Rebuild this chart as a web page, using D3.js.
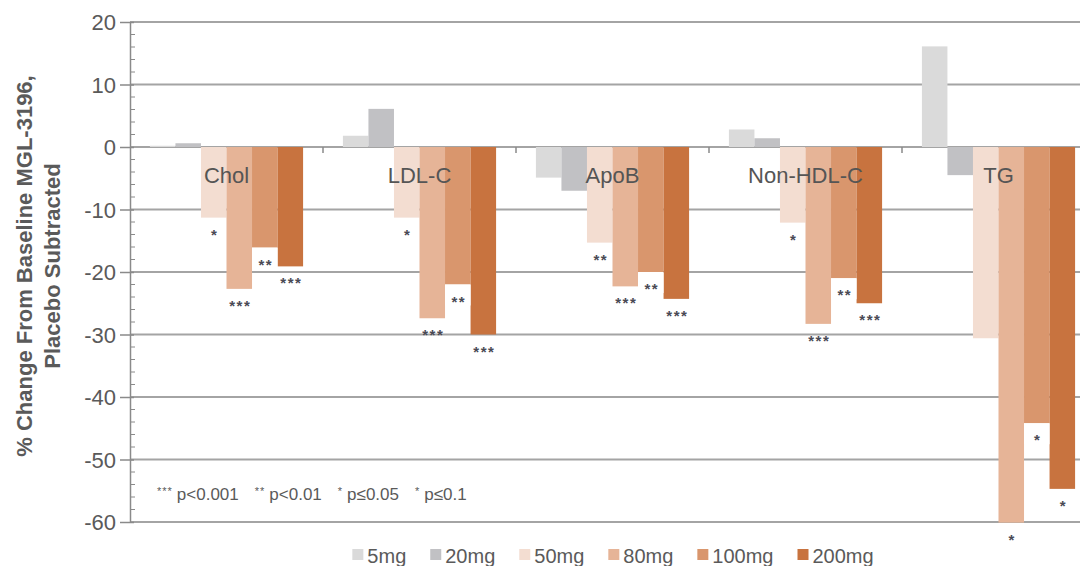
<!DOCTYPE html>
<html>
<head>
<meta charset="utf-8">
<script src="https://cdn.jsdelivr.net/npm/d3@7"></script>
<style>
  body { margin: 0; background: #fff; }
  svg { display: block; font-family: "Liberation Sans", Arial, sans-serif; }
</style>
</head>
<body>
<div id="viz"></div>
<script>

// data
var categories = ["Chol", "LDL-C", "ApoB", "Non-HDL-C", "TG"];
var doses = ["5mg", "20mg", "50mg", "80mg", "100mg", "200mg"];

var val5mg   = [0.2, 1.8, -4.9, 2.8, 16.1];
var val20mg  = [0.6, 6.1, -7.0, 1.4, -4.5];
var val50mg  = [-11.3, -11.3, -15.3, -12.1, -30.6];
var val80mg  = [-22.7, -27.4, -22.3, -28.3, -60.1];
var val100mg = [-16.1, -22.0, -20.0, -21.0, -44.2];
var val200mg = [-19.1, -30.0, -24.3, -25.0, -54.7];

var sig5mg   = ["", "", "", "", ""];
var sig20mg  = ["", "", "", "", ""];
var sig50mg  = ["*", "*", "**", "*", ""];
var sig80mg  = ["***", "***", "***", "***", "*"];
var sig100mg = ["**", "**", "**", "**", "*"];
var sig200mg = ["***", "***", "***", "***", "*"];

var yTicks = [20, 10, 0, -10, -20, -30, -40, -50, -60];
var sigLegend = [["***", "p<0.001"], ["**", "p<0.01"], ["*", "p\u22640.05"], ["*", "p\u22640.1"]];

var doseColors = ["#dadada", "#c1c1c4", "#f3ddd1", "#e6b497", "#d9966d", "#c8733f"];

var series = [val5mg, val20mg, val50mg, val80mg, val100mg, val200mg];
var sigs = [sig5mg, sig20mg, sig50mg, sig80mg, sig100mg, sig200mg];

var rows = [];
categories.forEach(function(c, ci){
  doses.forEach(function(d, di){
    rows.push({cat: c, dose: d, value: series[di][ci], sig: sigs[di][ci]});
  });
});

var W = 1080, H = 566;
var margin = {top: 22, left: 130};
var plotRight = 1095, plotBottom = 522;

var svg = d3.select("#viz").append("svg")
    .attr("width", W)
    .attr("height", H);

var y = d3.scaleLinear()
    .domain([-60, 20])
    .range([plotBottom, margin.top]);

var x = d3.scaleBand()
    .domain(categories)
    .range([margin.left, plotRight])
    .paddingInner(0)
    .paddingOuter(0);

var xDose = d3.scaleBand()
    .domain(doses)
    .range([0, x.bandwidth()])
    .paddingInner(0)
    .paddingOuter(0.78);

var color = d3.scaleOrdinal()
    .domain(doses)
    .range(doseColors);

// gridlines
svg.append("g")
    .selectAll("line")
    .data(yTicks)
    .enter().append("line")
    .attr("x1", margin.left)
    .attr("x2", plotRight)
    .attr("y1", function(d){ return y(d); })
    .attr("y2", function(d){ return y(d); })
    .style("stroke", "#a4a4a4")
    .style("stroke-width", 2);

// bars
var bars = svg.append("g")
    .selectAll("rect")
    .data(rows)
    .enter().append("rect")
    .attr("x", function(d){ return x(d.cat) + xDose(d.dose); })
    .attr("width", xDose.bandwidth())
    .attr("y", function(d){ return y(Math.max(0, d.value)); })
    .attr("height", function(d){ return Math.abs(y(d.value) - y(0)); })
    .style("fill", function(d){ return color(d.dose); });

// white box behind the 100mg marks
svg.append("g")
    .selectAll("rect")
    .data(rows.filter(function(d){ return d.sig && d.dose == "100mg"; }))
    .enter().append("rect")
    .attr("x", function(d){ return x(d.cat) + xDose(d.dose); })
    .attr("width", xDose.bandwidth())
    .attr("y", function(d){ return y(d.value); })
    .attr("height", 21)
    .style("fill", "#fff");

// significance marks under bars
svg.append("g")
    .selectAll("text")
    .data(rows.filter(function(d){ return d.sig; }))
    .enter().append("text")
    .attr("x", function(d){ return x(d.cat) + xDose(d.dose) + xDose.bandwidth() / 2 + 1; })
    .attr("y", function(d){ return y(d.value) + 22; })
    .attr("text-anchor", "middle")
    .style("font-size", "15px")
    .style("font-weight", "bold")
    .style("letter-spacing", "1.5px")
    .style("fill", "#4a4a55")
    .text(function(d){ return d.sig; });

// y axis
var yAxis = d3.axisLeft(y)
    .tickValues(yTicks)
    .tickFormat(function(d){ return String(d); })
    .tickSize(10)
    .tickSizeOuter(0)
    .tickPadding(4);

var ay = svg.append("g")
    .attr("transform", "translate(" + margin.left + ",0)")
    .call(yAxis);

ay.select(".domain").style("stroke", "#8a8a8a").style("stroke-width", 1.5);
ay.selectAll(".tick line").style("stroke", "#8a8a8a").style("stroke-width", 1.5).attr("x2", -10).attr("x1", 4);
ay.selectAll(".tick text")
    .style("font-size", "22px")
    .style("fill", "#5a5a5a")
    .style("font-family", "'Liberation Sans', Arial, sans-serif")
    .attr("dy", "0.35em");

// minor ticks
ay.append("g")
    .selectAll("line")
    .data(d3.range(-60, 20, 2).filter(function(d){ return d % 10 != 0; }))
    .enter().append("line")
    .attr("x1", 0)
    .attr("x2", 5)
    .attr("y1", function(d){ return y(d); })
    .attr("y2", function(d){ return y(d); })
    .style("stroke", "#8a8a8a")
    .style("stroke-width", 1);

// category boundary ticks on zero line
svg.append("g")
    .selectAll("line")
    .data(categories.slice(1))
    .enter().append("line")
    .attr("x1", function(d){ return x(d); })
    .attr("x2", function(d){ return x(d); })
    .attr("y1", y(0))
    .attr("y2", y(0) + 6)
    .style("stroke", "#8a8a8a")
    .style("stroke-width", 1.5);

// category labels
svg.append("g")
    .selectAll("text")
    .data(categories)
    .enter().append("text")
    .attr("x", function(d){ return x(d) + x.bandwidth() / 2; })
    .attr("y", 183)
    .attr("text-anchor", "middle")
    .style("font-size", "22px")
    .style("fill", "#555")
    .text(function(d){ return d; });

// y title
var yTitle = svg.append("text")
    .attr("transform", "translate(0,266) rotate(-90)")
    .attr("text-anchor", "middle")
    .style("font-size", "22px")
    .style("font-weight", "bold")
    .style("fill", "#5a5a5a");

yTitle.append("tspan").attr("x", 0).attr("y", 32).text("% Change From Baseline MGL-3196,");
yTitle.append("tspan").attr("x", 0).attr("y", 60).text("Placebo Subtracted");

// significance legend
var sl = svg.append("text")
    .attr("x", 157)
    .attr("y", 500)
    .style("font-size", "17px")
    .style("fill", "#5a5a5a");

sigLegend.forEach(function(d, i){
  sl.append("tspan")
      .attr("dx", i == 0 ? 0 : 16)
      .attr("dy", -5)
      .style("font-size", "11px")
      .style("letter-spacing", "1px")
      .text(d[0]);
  sl.append("tspan")
      .attr("dx", 4)
      .attr("dy", 5)
      .text(d[1]);
});

// dose legend
var lg = svg.append("g")
    .attr("class", "legend");

var items = lg.selectAll("g")
    .data(doses)
    .enter().append("g");

items.append("rect")
    .attr("width", 11)
    .attr("height", 11)
    .attr("y", 549)
    .style("fill", function(d){ return color(d); });

items.append("text")
    .attr("x", 15)
    .attr("y", 563)
    .style("font-size", "20px")
    .style("fill", "#5a5a5a")
    .text(function(d){ return d; });

var cx = 0;
var offsets = [];
items.each(function(d){
  var w = d3.select(this).select("text").node().getComputedTextLength() + 15;
  offsets.push(cx);
  cx += w + 24;
});
var total = cx - 24;
var startX = 613 - total / 2;
items.attr("transform", function(d, i){ return "translate(" + (startX + offsets[i]) + ",0)"; });

</script>
</body>
</html>
